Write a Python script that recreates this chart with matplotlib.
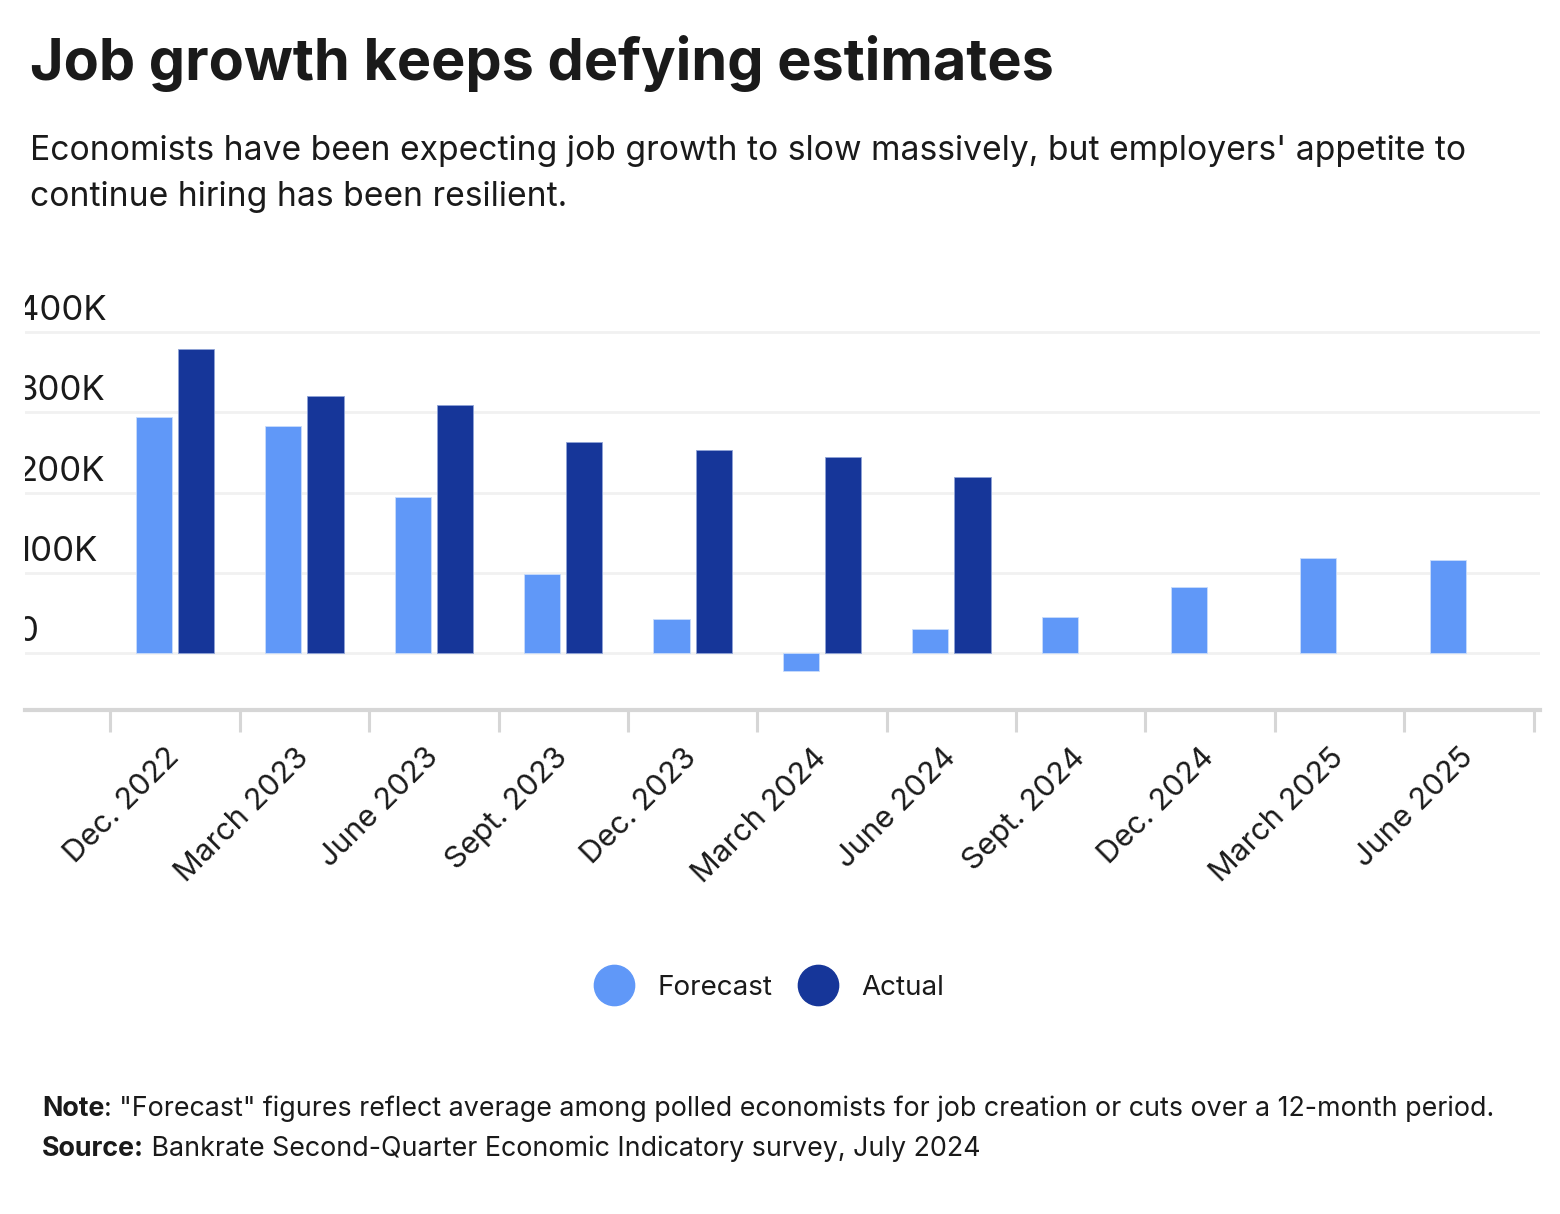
"""Bankrate: job growth forecast vs actual."""

import numpy as np
import matplotlib.pyplot as plt
from matplotlib.lines import Line2D

# data (thousands of jobs)
periods = ['Dec. 2022', 'March 2023', 'June 2023', 'Sept. 2023', 'Dec. 2023',
           'March 2024', 'June 2024', 'Sept. 2024', 'Dec. 2024', 'March 2025',
           'June 2025']
forecast = [294, 283, 194, 98, 42, -23, 30, 45, 82, 118, 116]
actual = [379, 321, 309, 263, 253, 244, 219, None, None, None, None]
y_ticks = [0, 100, 200, 300, 400]
y_tick_labels = ['0', '100K', '200K', '300K', '400K']

FORECAST_C = '#6098F8'
ACTUAL_C = '#163699'
TXT = '#1a1a1a'

plt.rcParams['font.family'] = ['Inter', 'DejaVu Sans']

fig = plt.figure(figsize=(15.6, 12.14), dpi=100)
ax = fig.add_axes([25 / 1560, 1 - 710 / 1214, 1515 / 1560, 426 / 1214])

x = np.arange(len(periods))
w = 0.28
off = 0.163
ax.bar(x - off, forecast, w, color=FORECAST_C, edgecolor='#c9dcfb', linewidth=0.6, zorder=3)
act_x = [xi for xi, v in zip(x, actual) if v is not None]
act_v = [v for v in actual if v is not None]
ax.bar(np.array(act_x) + off, act_v, w, color=ACTUAL_C, edgecolor='#8fa3d6', linewidth=0.6, zorder=3)

ax.set_xlim(-1.16, 10.55)
ax.set_ylim(-71, 460)

# gridlines
for t in y_ticks:
    ax.axhline(t, color='#f1f1f1', lw=2, zorder=1)
ax.set_yticks([])

# y labels sit above the gridline, clipped at axes edge
for t, lab in zip(y_ticks, y_tick_labels):
    ax.text(-0.0055, t + 15, lab, transform=ax.get_yaxis_transform(),
            ha='left', va='baseline', fontsize=25, color=TXT, clip_on=True)

# x axis
for s in ['top', 'right', 'left']:
    ax.spines[s].set_visible(False)
ax.spines['bottom'].set_color('#d6d6d6')
ax.spines['bottom'].set_linewidth(3)
ax.set_xticks(x)
ax.set_xticklabels(periods, rotation=45, ha='right', va='center',
                   rotation_mode='anchor', fontsize=22, color=TXT)
ax.tick_params(axis='x', which='major', length=0, pad=31)
ax.set_xticks(np.arange(-0.5, len(periods)), minor=True)
ax.tick_params(axis='x', which='minor', length=16, width=2.2, color='#d6d6d6')

# titles
fig.text(30 / 1560, 1 - 80 / 1214, 'Job growth keeps defying estimates',
         fontsize=41.5, fontweight='bold', color=TXT, ha='left', va='baseline')
fig.text(30 / 1560, 1 - 160 / 1214,
         "Economists have been expecting job growth to slow massively, but employers' appetite to",
         fontsize=24.2, color=TXT, ha='left', va='baseline')
fig.text(30 / 1560, 1 - 206 / 1214, 'continue hiring has been resilient.',
         fontsize=24.2, color=TXT, ha='left', va='baseline')

# legend
handles = [Line2D([], [], marker='o', ls='', ms=29, color=FORECAST_C, label='Forecast'),
           Line2D([], [], marker='o', ls='', ms=29, color=ACTUAL_C, label='Actual')]
fig.legend(handles=handles, loc='center', bbox_to_anchor=(0.4905, 1 - 988 / 1214),
           ncol=2, frameon=False, fontsize=20, handletextpad=0.55, columnspacing=0.65,
           labelcolor=TXT)

# footnotes: bold lead-in followed by regular text
notes = [('Note', ': "Forecast" figures reflect average among polled economists for job creation or cuts over a 12-month period.', 1116),
         ('Source:', ' Bankrate Second-Quarter Economic Indicatory survey, July 2024', 1156)]
for head, body, ypx in notes:
    t1 = fig.text(42 / 1560, 1 - ypx / 1214, head, fontsize=19.3, fontweight='bold',
                  color=TXT, ha='left', va='baseline')
    ax.annotate(body, xy=(1, 0), xycoords=t1, ha='left', va='bottom',
                fontsize=19.3, color=TXT, annotation_clip=False)

fig.savefig('out.png', dpi=100, facecolor='white')
